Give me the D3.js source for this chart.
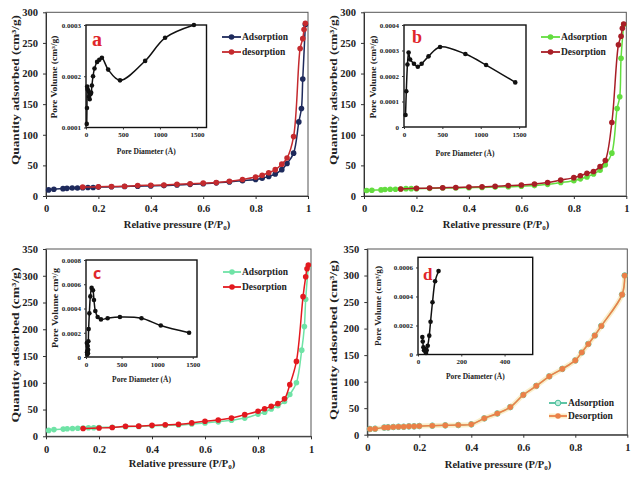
<!DOCTYPE html>
<html><head><meta charset="utf-8">
<script src="https://cdn.jsdelivr.net/npm/d3@7"></script>
<style>body{margin:0;background:#fff}</style>
</head><body><svg id="chart" width="635" height="478"></svg>
<script>
// ---- Data ----
const pAds = [0.01,0.03,0.065,0.08,0.1,0.12,0.14,0.16,0.18,0.2,0.25,0.3,0.35,0.4,0.45,0.5,0.55,0.6,0.65,0.7,0.75,0.8,0.825,0.85,0.875,0.9,0.92,0.945,0.965,0.975,0.98,0.99];
const pDes = [0.99,0.985,0.98,0.97,0.945,0.92,0.9,0.875,0.85,0.825,0.8,0.75,0.7,0.65,0.6,0.55,0.5,0.45,0.4,0.35,0.3,0.25,0.2,0.14];
const pAdsD = [0.01,0.03,0.065,0.08,0.1,0.12,0.14,0.16,0.18,0.2,0.25,0.3,0.35,0.4,0.45,0.5,0.55,0.6,0.65,0.7,0.75,0.8,0.825,0.85,0.875,0.9,0.98,0.99];
const pDesD = [0.99,0.98,0.9,0.875,0.85,0.825,0.8,0.75,0.7,0.65,0.6,0.55,0.5,0.45,0.4,0.35,0.3,0.25,0.2,0.18,0.16,0.14,0.12,0.1,0.08,0.065,0.03,0.01];

const aAds = [10,11,12,12.5,13,13,13.5,14,14,14.5,15,15.5,16,16.5,17,18,19,20,21.5,23,25,27,29,32,36,43,53,70,121,143,191,280];
const aDes = [282,272,257,241,97,62,52,43,38,34,31,27,24,22,21,20,19,18,17.5,17,16,15.5,15,14.5];
const bAds = [9,9.5,10,10.5,11,11,11.5,12,12,12,12.5,13,13,13.5,14,14.5,15,16,17,19,22,25,28,31,36,42,51,70,143,162,225,280];
const bDes = [281,274,261,247,120,58,48,40,37,33,30,26,22,19.5,18,17,16,15,14.5,14,13.5,13,12.5,11.5];
const cAds = [11,12.5,13.5,14,14.5,15,15.5,16,16,16.5,17,18,18.5,19.5,20.5,21,23,25,27,30,34,41.5,45,51,57,65,78,100,161,205,256,318];
const cDes = [320,313,298,261,140,96.5,70,61,56,51.5,46.7,40.5,34,30.5,28,25,22.5,21.5,20.5,19,18.7,16.5,15.5,14.5];
const dAds = [10.7,11.3,13.5,13.8,14.5,15,15,15.7,15.7,16.3,17,17.6,18.2,19.5,30.8,40,52,75,92,110,124,140,155,171,187,205,264,300];
const dDes = [300,264,205,187,171,155,140,124,110,92,75,52,40,30.8,19.5,18.2,17.6,17,16.3,15.7,15.7,15,15,14.5,13.8,13.5,11.3,10.7];

const aPoreD = [10,13,16,20,30,40,50,60,70,80,95,115,150,180,215,300,460,800,1070,1460];
const aPoreV = [0.000107,0.000138,0.00018,0.000175,0.000172,0.00016,0.000155,0.000165,0.000168,0.000182,0.0002,0.000215,0.000228,0.000232,0.000236,0.000213,0.000192,0.00023,0.000275,0.0003];
const bPoreD = [20,30,45,60,80,130,180,230,320,470,800,1070,1450];
const bPoreV = [0.000047,0.00014,0.000245,0.000292,0.000265,0.000248,0.000236,0.000248,0.000277,0.000314,0.000286,0.000243,0.000175];
const cPoreD = [12,15,18,21,24,27,30,33,37,47,61,79,98,112,131,164,210,304,477,780,1051,1449];
const cPoreV = [0.000115,0.00004,0.00002,0.00005,0.00009,0.00003,0.00006,0.00013,0.00023,0.00036,0.0005,0.00057,0.00055,0.00047,0.00038,0.00033,0.00031,0.00032,0.00033,0.00032,0.00026,0.0002];
const dPoreD = [20,22,25,28,31,34,37,40,45,52,58,67,79,95];
const dPoreV = [0.00012,0.00009,0.00005,0.00003,0.00004,0.00002,0.00001,0.00003,0.00006,0.00013,0.000226,0.00036,0.000505,0.000575];

const mainXTicks = [0,0.2,0.4,0.6,0.8,1];
const yTicks300 = [0,50,100,150,200,250,300];
const yTicks350 = [0,50,100,150,200,250,300,350];
const poreXTicks = [0,500,1000,1500];
const poreXTicksD = [0,200,400];
const aPoreYTicks = [0.0001,0.0002,0.0003];
const bPoreYTicks = [0,0.0001,0.0002,0.0003,0.0004];
const cPoreYTicks = [0,0.0002,0.0004,0.0006,0.0008];
const dPoreYTicks = [0,0.0002,0.0004,0.0006];
const legendA = ["Adsorption","desorption"];
const legendB = ["Adsorption","Desorption"];

// ---- Drawing ----
const SERIF = "'Liberation Serif','Times New Roman',serif";
const svg = d3.select("#chart");

function styleAxis(g, size){
  g.selectAll("path,line").attr("stroke","#333").attr("stroke-width",1);
  g.selectAll("text").attr("font-family",SERIF).attr("font-weight","bold").attr("font-size",size).attr("fill","#222");
}

function drawSeries(g, x, y, xs, ys, color, opts={}){
  const pts = xs.map((v,i)=>[v,ys[i]]);
  const line = d3.line().x(d=>x(d[0])).y(d=>y(d[1])).curve(d3.curveCatmullRom.alpha(0.5));
  if(opts.glow){
    g.append("path").attr("d",line(pts)).attr("fill","none").attr("stroke",opts.glow).attr("stroke-width",5).attr("stroke-opacity",0.6);
  }
  g.append("path").attr("d",line(pts)).attr("fill","none").attr("stroke",color).attr("stroke-width",opts.lw||1.5);
  g.selectAll(null).data(pts).enter().append("circle")
    .attr("cx",d=>x(d[0])).attr("cy",d=>y(d[1])).attr("r",opts.r||2.8)
    .attr("fill",opts.fill||color).attr("stroke",color).attr("stroke-width",opts.fill?1:0);
}

function panel(cfg){
  const g = svg.append("g");
  const x = d3.scaleLinear().domain([0,1]).range(cfg.xr);
  const y = d3.scaleLinear().domain(cfg.yd).range(cfg.yr);
  g.append("rect").attr("x",cfg.xr[0]).attr("y",cfg.yr[1]).attr("width",cfg.xr[1]-cfg.xr[0]).attr("height",cfg.yr[0]-cfg.yr[1])
    .attr("fill","none").attr("stroke","#555").attr("stroke-width",1);
  const xa = g.append("g").attr("transform",`translate(0,${cfg.yr[0]})`)
    .call(d3.axisBottom(x).tickValues(mainXTicks).tickFormat(d=>(d===0||d===1)?String(d):d.toFixed(1)).tickSize(3).tickSizeOuter(0).tickPadding(6));
  styleAxis(xa,10.5);
  const ya = g.append("g").attr("transform",`translate(${cfg.xr[0]},0)`)
    .call(d3.axisLeft(y).tickValues(cfg.yTicks).tickSize(3).tickSizeOuter(0).tickPadding(5));
  styleAxis(ya,10.5);
  // titles
  const xt = g.append("text").attr("x",cfg.xTitle[0]).attr("y",cfg.xTitle[1]).attr("text-anchor","middle")
    .attr("font-family",SERIF).attr("font-weight","bold").attr("font-size",10.5).attr("fill","#222");
  xt.append("tspan").text("Relative pressure (P/P");
  xt.append("tspan").attr("baseline-shift","-2").attr("font-size",7).text("0");
  xt.append("tspan").attr("dy",0).text(")");
  g.append("text").attr("transform",`translate(${cfg.yTitle[0]},${cfg.yTitle[1]}) rotate(-90)`).attr("text-anchor","middle")
    .attr("dominant-baseline","central")
    .attr("font-family",SERIF).attr("font-weight","bold").attr("font-size",11).attr("fill","#222")
    .attr("textLength",cfg.yTitle[2]).attr("lengthAdjust","spacingAndGlyphs")
    .text("Quantity adsorbed (cm³/g)");
  // series
  drawSeries(g,x,y,cfg.ads[0],cfg.ads[1],cfg.adsColor,cfg.adsOpts||{});
  drawSeries(g,x,y,cfg.des[0],cfg.des[1],cfg.desColor,cfg.desOpts||{});
  // legend
  const L = cfg.legend;
  [[cfg.adsColor,cfg.adsOpts||{}],[cfg.desColor,cfg.desOpts||{}]].forEach((c,i)=>{
    const yy = L.y[i];
    if(c[1].glow) g.append("line").attr("x1",L.x0).attr("x2",L.x1).attr("y1",yy).attr("y2",yy).attr("stroke",c[1].glow).attr("stroke-width",5).attr("stroke-opacity",0.6);
    g.append("line").attr("x1",L.x0).attr("x2",L.x1).attr("y1",yy).attr("y2",yy).attr("stroke",c[0]).attr("stroke-width",1.8);
    g.append("circle").attr("cx",(L.x0+L.x1)/2).attr("cy",yy).attr("r",2.8).attr("fill",c[1].fill||c[0]).attr("stroke",c[0]).attr("stroke-width",c[1].fill?1:0);
    g.append("text").attr("x",L.x1+1).attr("y",yy).attr("dominant-baseline","central")
      .attr("font-family",SERIF).attr("font-weight","bold").attr("font-size",9.5).attr("fill","#222").text(L.labels[i]);
  });
  inset(g,cfg.inset);
}

function inset(g,c){
  const ig = g.append("g");
  const x = d3.scaleLinear().domain(c.xd).range([c.box[0],c.box[1]]);
  const y = d3.scaleLinear().domain(c.yd).range([c.box[3],c.box[2]]);
  ig.append("rect").attr("x",c.box[0]).attr("y",c.box[2]).attr("width",c.box[1]-c.box[0]).attr("height",c.box[3]-c.box[2])
    .attr("fill","#fff").attr("stroke","#111").attr("stroke-width",1.4);
  const xa = ig.append("g").attr("transform",`translate(0,${c.box[3]})`)
    .call(d3.axisBottom(x).tickValues(c.xTicks).tickSize(2).tickSizeOuter(0).tickPadding(3).tickFormat(d3.format("d")));
  styleAxis(xa,7);
  const ya = ig.append("g").attr("transform",`translate(${c.box[0]},0)`)
    .call(d3.axisLeft(y).tickValues(c.yTicks).tickSize(2).tickSizeOuter(0).tickPadding(3).tickFormat(d=>d===0?"0":d.toFixed(4)));
  styleAxis(ya,7);
  ya.select(".domain").remove(); xa.select(".domain").remove();
  ig.append("text").attr("x",(c.box[0]+c.box[1])/2).attr("y",c.xTitleY).attr("text-anchor","middle").attr("dominant-baseline","central")
    .attr("font-family",SERIF).attr("font-weight","bold").attr("font-size",7.5).attr("fill","#222").text("Pore Diameter (Å)");
  ig.append("text").attr("transform",`translate(${c.yTitle[0]},${c.yTitle[1]}) rotate(-90)`).attr("text-anchor","middle")
    .attr("dominant-baseline","central")
    .attr("font-family",SERIF).attr("font-weight","bold").attr("font-size",7.5).attr("fill","#222")
    .attr("textLength",c.yTitle[2]).attr("lengthAdjust","spacingAndGlyphs").text(c.yLabel);
  drawSeries(ig,x,y,c.d,c.v,"#111",{r:2.3,lw:1.5});
  ig.append("text").attr("x",c.letter[0]).attr("y",c.letter[1]).attr("font-family",c.letterFont||SERIF)
    .attr("font-weight","bold").attr("font-size",c.letter[2]).attr("fill","#e0262b").text(c.letter[3]);
}

panel({xr:[46,308], yr:[196,12.3], yd:[0,300], yTicks:yTicks300,
  xTitle:[177,228], yTitle:[15,90,150],
  ads:[pAds,aAds], des:[pDes,aDes], adsColor:"#1e2a5c", desColor:"#c42a2e",
  legend:{x0:222,x1:241,y:[37,52],labels:legendA},
  inset:{box:[86,206.5,25,127.5], xd:[0,1630], yd:[0.0001,0.0003], xTicks:poreXTicks, yTicks:aPoreYTicks,
    d:aPoreD, v:aPoreV, xTitleY:151, yTitle:[54,77,83], yLabel:"Pore Volume (cm³/g)", letter:[92,46,20,"a"]}});

panel({xr:[364,626.3], yr:[196,12.3], yd:[0,300], yTicks:yTicks300,
  xTitle:[496,228], yTitle:[333,90,150],
  ads:[pAds,bAds], des:[pDes,bDes], adsColor:"#63dd3f", desColor:"#a81e26",
  legend:{x0:541,x1:560,y:[37,52],labels:legendB},
  inset:{box:[404,526,25,127], xd:[0,1590], yd:[0,0.0004], xTicks:poreXTicks, yTicks:bPoreYTicks,
    d:bPoreD, v:bPoreV, xTitleY:153, yTitle:[373,77,83], yLabel:"Pore Volume (cm³/g)", letter:[412,43,18,"b"]}});

panel({xr:[46,311], yr:[436.3,249], yd:[0,350], yTicks:yTicks350,
  xTitle:[182,467], yTitle:[15,345,155],
  ads:[pAds,cAds], des:[pDes,cDes], adsColor:"#6fe3a6", desColor:"#e3191f",
  legend:{x0:223,x1:241,y:[272,287],labels:legendB},
  inset:{box:[86,197,260,357], xd:[0,1560], yd:[0,0.0008], xTicks:poreXTicks, yTicks:cPoreYTicks,
    d:cPoreD, v:cPoreV, xTitleY:379, yTitle:[55,308,80], yLabel:"Pore Volume cm³/g", letter:[93,279,16,"c"], letterFont:"'Open Sans',sans-serif"}});

panel({xr:[367.3,627.3], yr:[434.7,249], yd:[0,350], yTicks:yTicks350,
  xTitle:[498,468], yTitle:[333,340,160],
  ads:[pAdsD,dAds], des:[pDesD,dDes], adsColor:"#4cbf9c", desColor:"#ea8048",
  adsOpts:{fill:"#bfeedd"}, desOpts:{glow:"#f6e2a8"},
  legend:{x0:549,x1:567,y:[403,416],labels:legendB},
  inset:{box:[418,532.7,257.3,354.5], xd:[0,530], yd:[0,0.00067], xTicks:poreXTicksD, yTicks:dPoreYTicks,
    d:dPoreD, v:dPoreV, xTitleY:376, yTitle:[378,306,80], yLabel:"Pore Volume (cm³/g)", letter:[423,280,17,"d"]}});
</script>
</body></html>
